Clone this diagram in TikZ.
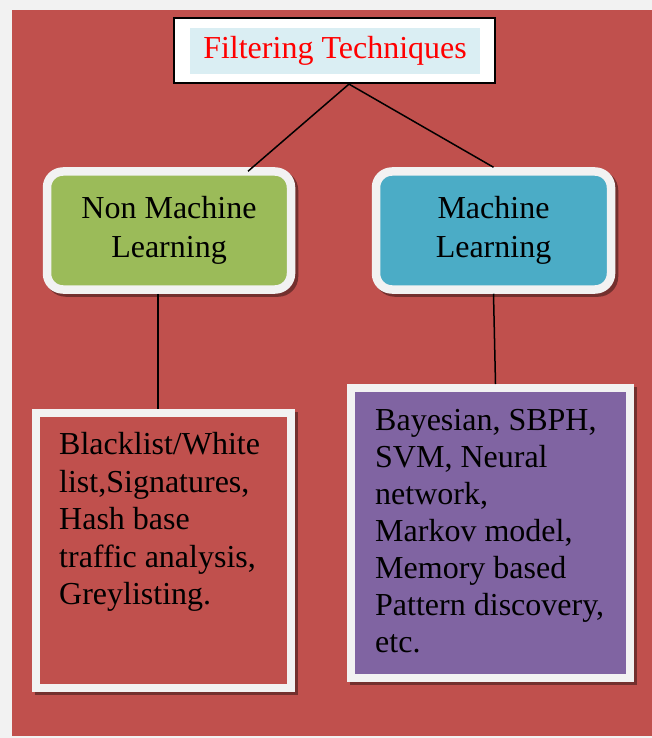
\documentclass[tikz,border=0pt]{standalone}
\usepackage{fontspec}
\setmainfont{Liberation Serif}
\usetikzlibrary{calc}

\definecolor{pagegray}{HTML}{F2F2F2}
\definecolor{panelred}{HTML}{C0504D}
\definecolor{framegray}{HTML}{F2F2F2}
\definecolor{titleblue}{HTML}{DAEEF3}
\definecolor{leafgreen}{HTML}{9BBB59}
\definecolor{aquablue}{HTML}{4BACC6}
\definecolor{lavender}{HTML}{8064A2}

\pgfdeclarelayer{bg}
\pgfsetlayers{bg,main}

\tikzset{
  bodyfont/.style={font=\fontsize{32}{39.5}\selectfont},
  titleframe/.style={draw=black, fill=white, line width=2.2pt, inner sep=0pt},
  titlefill/.style={fill=titleblue, text=red, inner sep=0pt, bodyfont},
  roundbox/.style={draw=framegray, line width=8.5pt, rounded corners=16pt,
    inner sep=0pt, align=center, bodyfont},
  squarebox/.style={draw=framegray, line width=8pt, inner sep=0pt},
  listtext/.style={anchor=north west, inner sep=0pt, align=left},
  boxshadow/.style={fill=black, opacity=0.4},
  link/.style={draw=black, line width=1.5pt}
}

\begin{document}
\begin{tikzpicture}[x=1pt, y=-1pt]
\useasboundingbox (0,0) rectangle (652,738);

\begin{pgfonlayer}{bg}
  \fill[pagegray] (0,0) rectangle (652,738);
  \fill[panelred] (12,10) rectangle (652,736);
\end{pgfonlayer}

% heading
\node[titleframe, minimum width=321pt, minimum height=65pt] (title) at (334.5,50.5) {};
\node[titlefill, minimum width=290pt, minimum height=46pt] (titletext) at (335,51) {Filtering Techniques};

% the two families
\node[roundbox, fill=leafgreen, minimum width=244pt, minimum height=118pt] (nml) at (169,230.5)
  {Non Machine\\Learning};
\node[roundbox, fill=aquablue, minimum width=235pt, minimum height=118pt] (ml) at (493.5,230.5)
  {Machine\\Learning};

% example lists
\node[squarebox, fill=panelred, minimum width=255pt, minimum height=275pt] (lbox) at (163.5,550.5) {};
\node[squarebox, fill=lavender, minimum width=279pt, minimum height=290pt] (rbox) at (490.5,533) {};

\node[listtext, font=\fontsize{32}{37.5}\selectfont] (ltext) at (59,432.3)
  {Blacklist/White\\list,Signatures,\\Hash base\\traffic analysis,\\Greylisting.};
\node[listtext, font=\fontsize{32}{36.9}\selectfont] (rtext) at (375,409.4)
  {Bayesian, SBPH,\\SVM, Neural\\network,\\Markov model,\\Memory based\\Pattern discovery,\\etc.};

% drop shadows behind the boxes
\begin{pgfonlayer}{bg}
  \foreach \b in {nml, ml}
    \fill[boxshadow, rounded corners=20pt]
      ([shift={(3,3)}]\b.north west) rectangle ([shift={(3,3)}]\b.south east);
  \foreach \b in {lbox, rbox}
    \fill[boxshadow]
      ([shift={(3,3)}]\b.north west) rectangle ([shift={(3,3)}]\b.south east);
\end{pgfonlayer}

% connectors
\coordinate (apex) at ([xshift=14.5pt]title.south);
\draw[link] (apex) -- ([xshift=79pt, yshift=-4pt]nml.north);
\draw[link] (apex) -- (ml.north);
\draw[link] ([xshift=-11pt]nml.south) -- ([xshift=-11pt]nml.south |- lbox.north);
\draw[link] (ml.south) -- ([xshift=5pt]rbox.north);
\end{tikzpicture}
\end{document}
